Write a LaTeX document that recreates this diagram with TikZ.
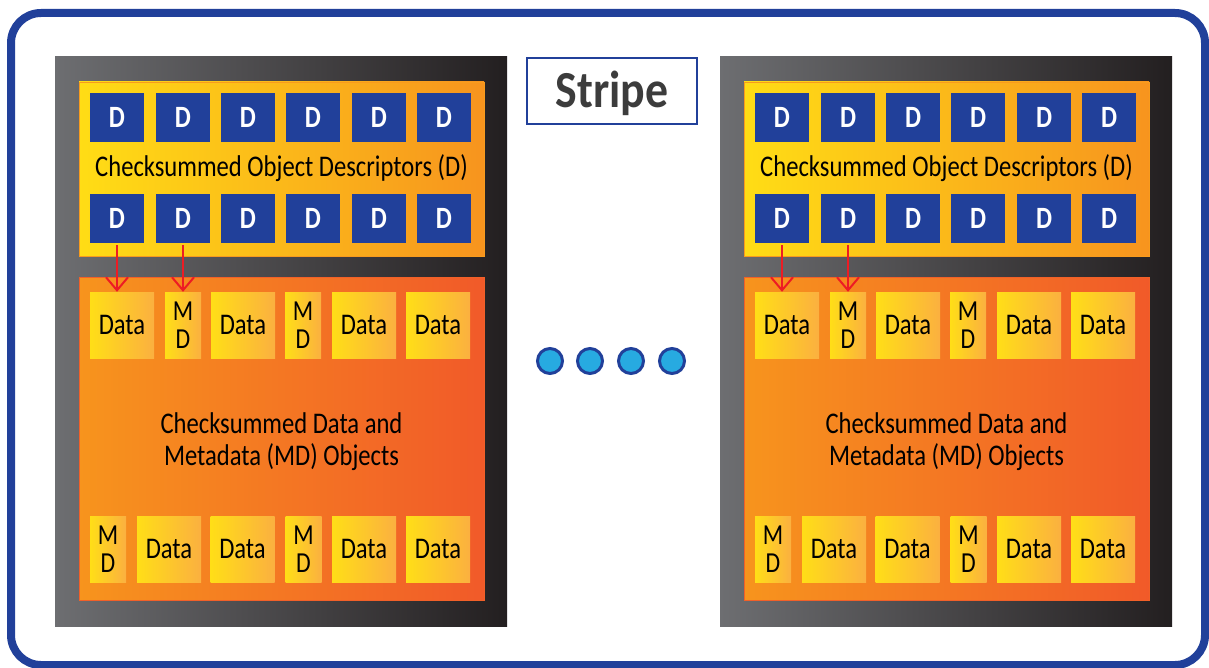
\documentclass[tikz,border=0pt]{standalone}
\usepackage{fontspec}
\setmainfont{Carlito}[FakeStretch=0.82]
\newfontfamily\stripefont{Carlito}[FakeStretch=0.88]
\usetikzlibrary{arrows.meta}
\definecolor{fblue}{HTML}{21409A}
\definecolor{dotfill}{HTML}{27AAE1}
\definecolor{panelL}{HTML}{6D6E71}
\definecolor{panelR}{HTML}{231F20}
\definecolor{upL}{HTML}{FFDD15}
\definecolor{upR}{HTML}{F7941E}
\definecolor{loL}{HTML}{F7941D}
\definecolor{loR}{HTML}{F15A29}
\definecolor{dataL}{HTML}{FFDE17}
\definecolor{dataR}{HTML}{FBB040}
\definecolor{arrred}{HTML}{ED1C24}
\definecolor{txtgrey}{HTML}{3C3C3C}
\begin{document}
\begin{tikzpicture}[x=1pt,y=-1pt,
  frame/.style={draw=fblue,line width=8pt,rounded corners=30pt},
  panel/.style={left color=panelL,right color=panelR,inner sep=0pt,minimum width=452pt,minimum height=569pt},
  upbox/.style={left color=upL,right color=upR,draw=upR!90!upL,line width=0.8pt,inner sep=0pt,minimum width=405pt,minimum height=174pt},
  lobox/.style={left color=loL,right color=loR,draw=loR!90!loL,line width=0.8pt,inner sep=0pt,minimum width=405pt,minimum height=323pt},
  dbox/.style={fill=fblue,text=white,inner sep=0pt,minimum width=54pt,minimum height=49pt,font=\fontsize{31}{34}\selectfont\bfseries,node contents=D},
  databox/.style={left color=dataL,right color=dataR,inner sep=0pt,minimum width=64pt,minimum height=66pt,font=\fontsize{30}{27}\selectfont,node contents=Data},
  mdbox/.style={left color=dataL,right color=dataR,inner sep=0pt,minimum width=36pt,minimum height=66pt,align=center,font=\fontsize{29}{28}\selectfont,node contents={M\\D}},
  lbl/.style={anchor=base,inner sep=0pt,font=\fontsize{30}{32}\selectfont},
  redarr/.style={draw=arrred,line width=2pt,-{Straight Barb[length=13pt,width=22pt]}},
  dot/.style={circle,draw=fblue,fill=dotfill,line width=3pt,minimum size=25pt,inner sep=0pt},
  stripebox/.style={draw=fblue,line width=2.5pt,fill=white,inner sep=0pt,minimum width=170pt,minimum height=66pt,text height=33pt,text depth=0pt,text=txtgrey,font=\stripefont\fontsize{52}{56}\selectfont\bfseries}
]
\useasboundingbox (0,0) rectangle (1209,668);
\fill[white] (0,0) rectangle (1209,668);
\draw[frame] (11,13) rectangle (1205,665);

\foreach \p/\o in {L/0,R/665}{
\begin{scope}[shift={(\o,0)}]
  \node[panel] (\p-panel) at (281,341.5) {};
  \node[upbox] (\p-up) at (281.5,169) {};
  \node[lobox] (\p-lo) at (281.5,438.5) {};
  \foreach \i/\c in {1/117,2/183,3/248,4/313,5/379,6/444}{
    \node (\p-da\i) [dbox,at={(\c,117.5)}];
    \node (\p-db\i) [dbox,at={(\c,218.5)}];
  }
  \node[lbl] (\p-desc) at (281.5,177) {Checksummed Object Descriptors (D)};
  \foreach \i/\c/\k in {1/122/databox,2/183/mdbox,3/243/databox,4/303/mdbox,5/364/databox,6/438/databox}{
    \node (\p-r\i) [\k,at={(\c,325)}];
  }
  \foreach \i/\c/\k in {1/108/mdbox,2/169/databox,3/242.5/databox,4/303.5/mdbox,5/364/databox,6/438/databox}{
    \node (\p-s\i) [\k,at={(\c,549)}];
  }
  \node[lbl] (\p-obj1) at (281.5,433) {Checksummed Data and};
  \node[lbl] (\p-obj2) at (281.5,465) {Metadata (MD) Objects};
  \draw[redarr] (\p-db1.south) ++(0,2) -- (\p-db1.south |- \p-r1.north);
  \draw[redarr] (\p-db2.south) ++(0,2) -- (\p-db2.south |- \p-r2.north);
\end{scope}
}

\node[stripebox] (stripe) at (612,91) {Stripe};
\foreach \i/\c in {1/550,2/590,3/631,4/672}{
  \node[dot] (dot\i) at (\c,361) {};
}
\end{tikzpicture}
\end{document}
